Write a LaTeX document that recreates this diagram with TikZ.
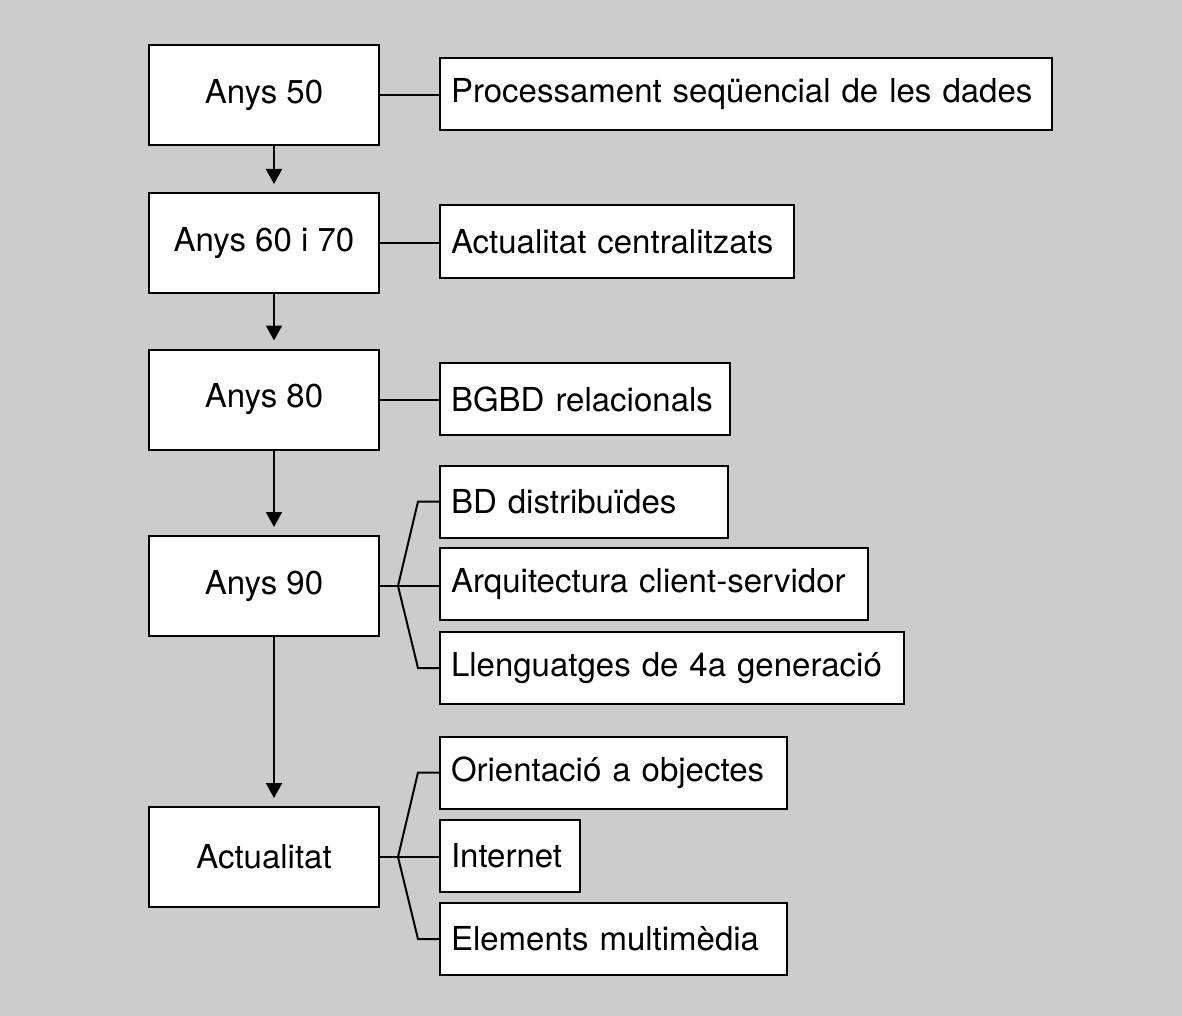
\documentclass[tikz,border=0pt]{standalone}
\usepackage{fontspec}
\setmainfont{TeX Gyre Heros}
\usetikzlibrary{positioning,arrows.meta}
\definecolor{fons}{RGB}{204,204,204}

\begin{document}
\begin{tikzpicture}[x=0.5pt,y=-0.5pt,>={Triangle[width=8pt,length=7.5pt]},
        every node/.style={font=\fontsize{16.5}{20}\selectfont},
        era/.style={draw,line width=1pt,fill=white,minimum width=115pt,minimum height=50pt},
        fet/.style={draw,line width=1pt,fill=white,anchor=west,minimum height=36pt,inner sep=5.5pt,align=left},
        link/.style={line width=1pt}]
        \fill[fons] (0,0) rectangle (1182,1016);
        % decades
        \node[era] (y50) at (264,95) {Anys 50};
        \node[era] (y60) at (264,243) {Anys 60 i 70};
        \node[era] (y80) at (264,399.5) {Anys 80};
        \node[era] (y90) at (264,586) {Anys 90};
        \node[era] (ara) at (264,857) {Actualitat};
        % features
        \node[fet,text width=295pt] (seq) at (439,94) {Processament seqüencial de les dades};
        \node[fet,text width=166pt] (cen) at (439,241.5) {Actualitat centralitzats};
        \node[fet,text width=134pt] (rel) at (439,399) {BGBD relacionals};
        \node[fet,text width=133pt] (dis) at (439,501.5) {BD distribuïdes};
        \node[fet,text width=203pt] (arq) at (439,584) {Arquitectura client-servidor};
        \node[fet,text width=221pt] (gen) at (439,668) {Llenguatges de 4a generació};
        \node[fet,text width=162.5pt] (obj) at (439,772.5) {Orientació a objectes};
        \node[fet,text width=59pt] (net) at (439,855.5) {Internet};
        \node[fet,text width=162.5pt] (mul) at (439,939) {Elements multimèdia};
        % arrows
        \draw[link,->] ([xshift=5pt]y50.south) -- ([xshift=5pt,yshift=4pt]y60.north);
        \draw[link,->] ([xshift=5pt]y60.south) -- ([xshift=5pt,yshift=4pt]y80.north);
        \draw[link,->] ([xshift=5pt]y80.south) -- ([xshift=5pt,yshift=4pt]y90.north);
        \draw[link,->] ([xshift=5pt]y90.south) -- ([xshift=5pt,yshift=4pt]ara.north);
        % single links
        \draw[link] (y50.east) -- (y50.east -| seq.west);
        \draw[link] (y60.east) -- (y60.east -| cen.west);
        \draw[link] (y80.east) -- (y80.east -| rel.west);
        % brackets
        \coordinate (j90) at ([xshift=9pt]y90.east);
        \draw[link] (y90.east) -- (y90.east -| arq.west);
        \draw[link] (j90) -- ([xshift=-10.5pt]dis.west) -- (dis.west);
        \draw[link] (j90) -- ([xshift=-10.5pt]gen.west) -- (gen.west);
        \coordinate (jara) at ([xshift=9pt]ara.east);
        \draw[link] (ara.east) -- (ara.east -| net.west);
        \draw[link] (jara) -- ([xshift=-10.5pt]obj.west) -- (obj.west);
        \draw[link] (jara) -- ([xshift=-10.5pt]mul.west) -- (mul.west);
    \end{tikzpicture}
\end{document}
